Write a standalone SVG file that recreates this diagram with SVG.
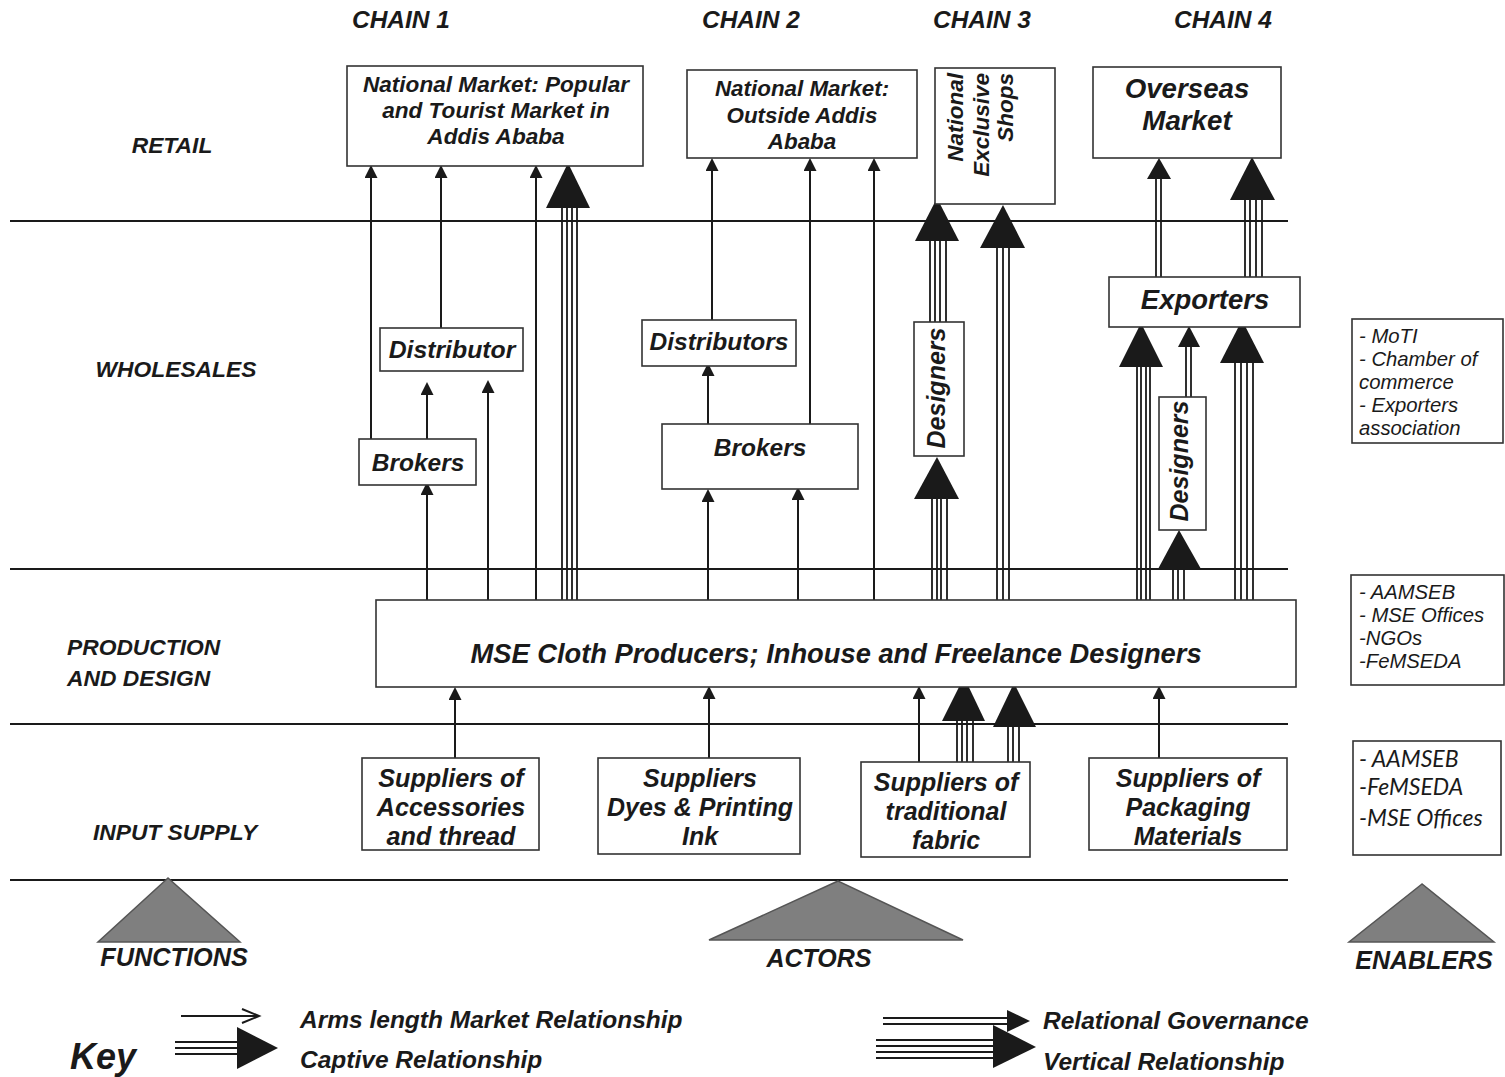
<svg xmlns="http://www.w3.org/2000/svg" width="1505" height="1077" viewBox="0 0 1505 1077">
<style>
.bi{font-family:"Liberation Sans",Arial,sans-serif;font-weight:bold;font-style:italic;fill:#1a1a1a}
.it{font-family:"Liberation Sans",Arial,sans-serif;font-style:italic;fill:#1a1a1a}
.cal{font-family:Lato,"Liberation Sans",sans-serif;font-style:italic;fill:#1a1a1a}
.box{fill:#fff;stroke:#333;stroke-width:1.6}
.hl{stroke:#1a1a1a;stroke-width:2}
.thin{stroke:#1a1a1a;stroke-width:2;fill:none}
.ml{stroke:#1a1a1a;stroke-width:1.8;fill:none}
.head{fill:#1a1a1a}
.tri{fill:#7f7f7f;stroke:#555;stroke-width:1.5}
.c{text-anchor:middle}
</style>
<defs>
<marker id="ah" markerUnits="userSpaceOnUse" viewBox="0 0 13 13" refX="11" refY="6.5" markerWidth="13" markerHeight="13" orient="auto">
<path d="M0,0 L13,6.5 L0,13 z" fill="#1a1a1a"/>
</marker>
</defs>
<rect width="1505" height="1077" fill="#fff"/>

<!-- function band lines -->
<g id="bands">
<line class="hl" x1="10" y1="221" x2="1288" y2="221"/>
<line class="hl" x1="10" y1="569" x2="1288" y2="569"/>
<line class="hl" x1="10" y1="724" x2="1288" y2="724"/>
<line class="hl" x1="10" y1="880" x2="1288" y2="880"/>
</g>

<!-- headers -->
<g id="headers" font-size="24.5">
<text class="bi c" x="401" y="28">CHAIN 1</text>
<text class="bi c" x="751" y="28">CHAIN 2</text>
<text class="bi c" x="982" y="28">CHAIN 3</text>
<text class="bi c" x="1223" y="28">CHAIN 4</text>
</g>

<!-- function labels -->
<g id="functions" font-size="22.8">
<text class="bi c" x="172" y="153">RETAIL</text>
<text class="bi c" x="176" y="377">WHOLESALES</text>
<text class="bi" x="67" y="655">PRODUCTION</text>
<text class="bi" x="67" y="686">AND DESIGN</text>
<text class="bi c" x="175" y="840">INPUT SUPPLY</text>
</g>

<!-- connectors -->
<g id="connectors">
<!-- thin arms-length arrows -->
<line class="thin" x1="371" y1="439" x2="371" y2="167" marker-end="url(#ah)"/>
<line class="thin" x1="441" y1="328" x2="441" y2="167" marker-end="url(#ah)"/>
<line class="thin" x1="536" y1="600" x2="536" y2="167" marker-end="url(#ah)"/>
<line class="thin" x1="427" y1="439" x2="427" y2="384" marker-end="url(#ah)"/>
<line class="thin" x1="488" y1="600" x2="488" y2="382" marker-end="url(#ah)"/>
<line class="thin" x1="427" y1="600" x2="427" y2="484" marker-end="url(#ah)"/>
<line class="thin" x1="712" y1="320" x2="712" y2="160" marker-end="url(#ah)"/>
<line class="thin" x1="810" y1="424" x2="810" y2="160" marker-end="url(#ah)"/>
<line class="thin" x1="874" y1="600" x2="874" y2="160" marker-end="url(#ah)"/>
<line class="thin" x1="708" y1="424" x2="708" y2="365" marker-end="url(#ah)"/>
<line class="thin" x1="708" y1="600" x2="708" y2="491" marker-end="url(#ah)"/>
<line class="thin" x1="798" y1="600" x2="798" y2="489" marker-end="url(#ah)"/>
<line class="thin" x1="455" y1="758" x2="455" y2="689" marker-end="url(#ah)"/>
<line class="thin" x1="709" y1="758" x2="709" y2="688" marker-end="url(#ah)"/>
<line class="thin" x1="919" y1="762" x2="919" y2="688" marker-end="url(#ah)"/>
<line class="thin" x1="1159" y1="758" x2="1159" y2="688" marker-end="url(#ah)"/>

<!-- chain 1 vertical -->
<g>
<path class="ml" d="M562,600V205 M567,600V205 M572,600V205 M577,600V205"/>
<polygon class="head" points="568,163 546,208 590,208"/>
</g>
<!-- chain 3 -->
<g>
<path class="ml" d="M930,322V238 M935,322V238 M940,322V238 M946,322V238"/>
<polygon class="head" points="937,198 915,241 959,241"/>
</g>
<g>
<path class="ml" d="M997,600V245 M1003,600V245 M1009,600V245"/>
<polygon class="head" points="1003,205 980,248 1025,248"/>
</g>
<g>
<path class="ml" d="M932,600V496 M937,600V496 M941,600V496 M947,600V496"/>
<polygon class="head" points="937,457 914,499 959,499"/>
</g>
<!-- chain 4 -->
<g>
<path class="ml" d="M1156,277V176 M1161,277V176"/>
<polygon class="head" points="1159,158 1147,179 1171,179"/>
</g>
<g>
<path class="ml" d="M1245,277V198 M1250,277V198 M1256,277V198 M1262,277V198"/>
<polygon class="head" points="1252,157 1230,200 1275,200"/>
</g>
<g>
<path class="ml" d="M1137,600V365 M1141,600V365 M1146,600V365 M1150,600V365"/>
<polygon class="head" points="1141,323 1119,367 1163,367"/>
</g>
<g>
<path class="ml" d="M1186,397V344 M1191,397V344"/>
<polygon class="head" points="1189,326 1178,347 1200,347"/>
</g>
<g>
<path class="ml" d="M1173,600V567 M1178,600V567 M1184,600V567"/>
<polygon class="head" points="1179,530 1158,569 1201,569"/>
</g>
<g>
<path class="ml" d="M1235,600V361 M1241,600V361 M1247,600V361 M1253,600V361"/>
<polygon class="head" points="1242,320 1220,363 1264,363"/>
</g>
<!-- input supply to MSE -->
<g>
<path class="ml" d="M957,762V719 M962,762V719 M967,762V719 M973,762V719"/>
<polygon class="head" points="964,677 942,721 985,721"/>
</g>
<g>
<path class="ml" d="M1008,762V725 M1013,762V725 M1019,762V725"/>
<polygon class="head" points="1014,683 993,727 1036,727"/>
</g>
</g>

<!-- nodes -->
<g id="nm-popular">
<rect class="box" x="347" y="66" width="296" height="100"/>
<text class="bi c" font-size="22.6" x="496" y="92">National Market: Popular</text>
<text class="bi c" font-size="22.6" x="496" y="118">and Tourist Market in</text>
<text class="bi c" font-size="22.6" x="496" y="144">Addis Ababa</text>
</g>
<g id="nm-outside">
<rect class="box" x="687" y="70" width="230" height="88"/>
<text class="bi c" font-size="22.4" x="802" y="96">National Market:</text>
<text class="bi c" font-size="22.4" x="802" y="123">Outside Addis</text>
<text class="bi c" font-size="22.4" x="802" y="149">Ababa</text>
</g>
<g id="exclusive-shops">
<rect class="box" x="935" y="68" width="120" height="136"/>
<text class="bi" font-size="22.5" text-anchor="end" transform="translate(963,73) rotate(-90)">National</text>
<text class="bi" font-size="22.5" text-anchor="end" transform="translate(989,73) rotate(-90)">Exclusive</text>
<text class="bi" font-size="22.5" text-anchor="end" transform="translate(1013,73) rotate(-90)">Shops</text>
</g>
<g id="overseas">
<rect class="box" x="1093" y="67" width="188" height="91"/>
<text class="bi c" font-size="27.7" x="1187" y="98">Overseas</text>
<text class="bi c" font-size="27.7" x="1187" y="130">Market</text>
</g>
<g id="exporters">
<rect class="box" x="1109" y="277" width="191" height="50"/>
<text class="bi c" font-size="27.5" x="1205" y="309">Exporters</text>
</g>
<g id="distributor1">
<rect class="box" x="380" y="328" width="143" height="43"/>
<text class="bi c" font-size="24.8" x="452" y="358">Distributor</text>
</g>
<g id="brokers1">
<rect class="box" x="359" y="439" width="117" height="46"/>
<text class="bi c" font-size="24.5" x="418" y="471">Brokers</text>
</g>
<g id="distributors2">
<rect class="box" x="642" y="320" width="154" height="46"/>
<text class="bi c" font-size="24.5" x="719" y="350">Distributors</text>
</g>
<g id="brokers2">
<rect class="box" x="662" y="424" width="196" height="65"/>
<text class="bi c" font-size="24.5" x="760" y="456">Brokers</text>
</g>
<g id="designers3">
<rect class="box" x="914" y="322" width="50" height="134"/>
<text class="bi c" font-size="25" transform="translate(945,388) rotate(-90)">Designers</text>
</g>
<g id="designers4">
<rect class="box" x="1159" y="397" width="47" height="133"/>
<text class="bi c" font-size="25" transform="translate(1188,461) rotate(-90)">Designers</text>
</g>
<g id="mse">
<rect class="box" x="376" y="600" width="920" height="87"/>
<text class="bi c" font-size="27.3" x="836" y="663">MSE Cloth Producers; Inhouse and Freelance Designers</text>
</g>
<g id="sup-accessories">
<rect class="box" x="362" y="758" width="177" height="92"/>
<text class="bi c" font-size="25.2" x="451" y="787">Suppliers of</text>
<text class="bi c" font-size="25.2" x="451" y="816">Accessories</text>
<text class="bi c" font-size="25.2" x="451" y="845">and thread</text>
</g>
<g id="sup-dyes">
<rect class="box" x="598" y="758" width="202" height="96"/>
<text class="bi c" font-size="25" x="700" y="787">Suppliers</text>
<text class="bi c" font-size="25" x="700" y="816">Dyes &amp; Printing</text>
<text class="bi c" font-size="25" x="700" y="845">Ink</text>
</g>
<g id="sup-fabric">
<rect class="box" x="861" y="762" width="169" height="95"/>
<text class="bi c" font-size="25" x="946" y="791">Suppliers of</text>
<text class="bi c" font-size="25" x="946" y="820">traditional</text>
<text class="bi c" font-size="25" x="946" y="849">fabric</text>
</g>
<g id="sup-packaging">
<rect class="box" x="1089" y="758" width="198" height="92"/>
<text class="bi c" font-size="25" x="1188" y="787">Suppliers of</text>
<text class="bi c" font-size="25" x="1188" y="816">Packaging</text>
<text class="bi c" font-size="25" x="1188" y="845">Materials</text>
</g>

<!-- enablers -->
<g id="enabler-wholesale">
<rect class="box" x="1352" y="319" width="151" height="124"/>
<text class="it" font-size="20.3" x="1359" y="343">- MoTI</text>
<text class="it" font-size="20.3" x="1359" y="366">- Chamber of</text>
<text class="it" font-size="20.3" x="1359" y="389">commerce</text>
<text class="it" font-size="20.3" x="1359" y="412">- Exporters</text>
<text class="it" font-size="20.3" x="1359" y="435">association</text>
</g>
<g id="enabler-production">
<rect class="box" x="1351" y="575" width="153" height="110"/>
<text class="it" font-size="20.3" x="1359" y="599">- AAMSEB</text>
<text class="it" font-size="20.3" x="1359" y="622">- MSE Offices</text>
<text class="it" font-size="20.3" x="1359" y="645">-NGOs</text>
<text class="it" font-size="20.3" x="1359" y="668">-FeMSEDA</text>
</g>
<g id="enabler-input">
<rect class="box" x="1353" y="741" width="148" height="114"/>
<text class="cal" font-size="23" x="1359" y="767">- AAMSEB</text>
<text class="cal" font-size="23" x="1359" y="795">-FeMSEDA</text>
<text class="cal" font-size="23" x="1359" y="826">-MSE Offices</text>
</g>

<!-- bottom triangles -->
<g id="functions-tri">
<polygon class="tri" points="168,878 98,942 240,942"/>
<text class="bi c" font-size="25.3" x="174" y="966">FUNCTIONS</text>
</g>
<g id="actors-tri">
<polygon class="tri" points="838,881 709,940 963,940"/>
<text class="bi c" font-size="25" x="819" y="967">ACTORS</text>
</g>
<g id="enablers-tri">
<polygon class="tri" points="1422,884 1349,942 1494,942"/>
<text class="bi c" font-size="25" x="1424" y="969">ENABLERS</text>
</g>

<!-- key -->
<g id="key">
<text class="bi" font-size="36" x="70" y="1069">Key</text>
<line class="thin" x1="181" y1="1016" x2="257" y2="1016"/>
<polyline class="thin" points="242,1009 259,1016 242,1023"/>
<text class="bi" font-size="24.5" x="300" y="1028">Arms length Market Relationship</text>
<path class="ml" d="M175,1042H240 M175,1048H240 M175,1054H240"/>
<polygon class="head" points="237,1027 278,1048 237,1069"/>
<text class="bi" font-size="24.5" x="300" y="1068">Captive Relationship</text>
<path class="ml" d="M883,1018H1010 M883,1024H1010"/>
<polygon class="head" points="1007,1010 1030,1021 1007,1032"/>
<text class="bi" font-size="24.5" x="1043" y="1029">Relational Governance</text>
<path class="ml" d="M876,1040H996 M876,1046H996 M876,1052H996 M876,1058H996"/>
<polygon class="head" points="993,1025 1036,1047 993,1068"/>
<text class="bi" font-size="24.5" x="1043" y="1070">Vertical Relationship</text>
</g>
</svg>
